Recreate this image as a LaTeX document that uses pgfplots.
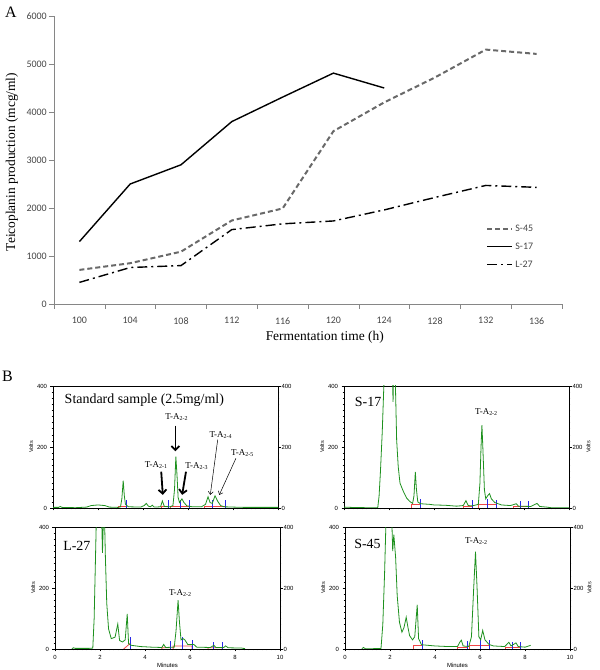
\documentclass[border=0pt]{standalone}
\usepackage{fontspec}
\setmainfont{Liberation Serif}
\newfontfamily\calibri{Carlito}
\newfontfamily\arial{Liberation Sans}
\usepackage{pgfplots}
\pgfplotsset{compat=1.18}
\usetikzlibrary{arrows.meta}

\definecolor{axgray}{RGB}{134,134,134}
\definecolor{lblgray}{RGB}{70,70,70}
\definecolor{s45gray}{RGB}{105,105,105}
\definecolor{trace}{RGB}{30,145,30}
\definecolor{intred}{RGB}{240,70,70}
\definecolor{intblue}{RGB}{40,40,230}

\tikzset{
  lbl/.style={font=\fontsize{9}{10}\selectfont},
  big/.style={font=\fontsize{14}{16}\selectfont},
}

\pgfplotsset{
  /pgf/number format/assume math mode=true,
  chrom/.style={scale only axis, width=225bp, height=122bp,
    xmin=0, xmax=10, ymin=0, ymax=400,
    xtick={0,2,...,10}, minor x tick num=9,
    ytick={0,200,400}, minor y tick num=9,
    xtick pos=left, tick align=outside,
    major tick length=2.5bp, minor tick length=1.3bp,
    every tick/.style={black, line width=0.4bp},
    axis line style={line width=0.5bp},
    tick label style={font=\arial\fontsize{6}{7}\selectfont},
    ylabel={Volts}, ylabel style={font=\arial\fontsize{5.5}{6}\selectfont, yshift=-3bp},
    xlabel style={font=\arial\fontsize{6}{7}\selectfont, yshift=3bp},
    unbounded coords=jump, clip=true},
  chromR/.style={scale only axis, width=225bp, height=122bp,
    xmin=0, xmax=10, ymin=0, ymax=400,
    hide x axis, axis y line*=right, ytick={0,200,400},
    ytick style={draw=none}, axis line style={draw=none},
    tick label style={font=\arial\fontsize{6}{7}\selectfont},
    ylabel style={font=\arial\fontsize{5.5}{6}\selectfont, yshift=3bp}},
  tr/.style={trace, line width=0.8bp},
  rd/.style={intred, line width=0.8bp},
  bl/.style={intblue, ycomb, line width=0.8bp, mark=none},
}

\begin{document}
\begin{tikzpicture}
\useasboundingbox (0,0) rectangle (600bp,670bp);

\node[font=\fontsize{16}{18}\selectfont] at (11bp,658bp) {A};
\node[font=\fontsize{16}{18}\selectfont] at (7.5bp,294bp) {B};

% ---------- panel A
\begin{axis}[at={(54bp,366bp)}, anchor=south west, scale only axis,
  width=508bp, height=288bp,
  xmin=98, xmax=138, ymin=0, ymax=6000,
  axis lines*=left, axis line style={axgray, line width=0.6bp},
  tick align=outside,
  xtick={100,104,...,136}, minor xtick={98,102,...,138},
  ytick={0,1000,...,6000},
  major x tick style={draw=none},
  minor x tick style={axgray, line width=0.6bp},
  ytick style={axgray, line width=0.6bp},
  major tick length=5bp, minor tick length=5bp,
  tick label style={font=\calibri\fontsize{10}{12}\selectfont, text=lblgray},
  /pgf/number format/1000 sep={},
  xticklabel style={yshift=-5bp}, yticklabel style={xshift=1.3bp},
  xlabel={Fermentation time (h)},
  ylabel={Teicoplanin production (mcg/ml)},
  xlabel style={at={(axis description cs:0.533,-0.115)}, anchor=center, font=\fontsize{13.5}{15}\selectfont},
  ylabel style={at={(axis description cs:-0.083,0.493)}, anchor=center, font=\fontsize{13.5}{15}\selectfont},
  legend style={draw=none, fill=none, at={(0.845,0.29)}, anchor=north west,
    font=\calibri\fontsize{10}{12}\selectfont, text=lblgray, row sep=6bp},
  legend cell align=left,
  legend image code/.code={\draw[#1] (0bp,0bp) -- (25bp,0bp);},
]
\addplot[s45gray, line width=2bp, dash pattern=on 5bp off 3bp] coordinates {
  (100,710) (104,850) (108,1090) (112,1740) (116,1990) (120,3600) (124,4200) (128,4720) (132,5300) (136,5210)};
\addplot[black, line width=1.4bp] coordinates {
  (100,1300) (104,2500) (108,2900) (112,3800) (116,4310) (120,4810) (124,4500)};
\addplot[black, line width=1.4bp, dash pattern=on 10bp off 4bp on 2bp off 4bp] coordinates {
  (100,450) (104,760) (108,800) (112,1550) (116,1670) (120,1730) (124,1960) (128,2220) (132,2470) (136,2430)};
\legend{S-45,S-17,L-27}
\end{axis}

% ---------- panel B, standard sample
\begin{axis}[chrom, at={(53bp,162bp)}, anchor=south west, xticklabels={}]
\addplot[rd] coordinates {(2.9,0) (2.9,4) (3.24,4) (3.24,0) (3.3,nan)
  (4.8,0) (4.8,4) (5.13,4) (5.13,0) (5.15,nan)
  (5.2,0) (5.2,5) (6.06,5) (6.06,0) (6.1,nan)
  (6.75,0) (6.75,4) (7.65,4) (7.65,0)};
\addplot[bl] coordinates {(3.24,25) (5.13,25) (5.66,25) (6.06,25) (7.07,25) (7.65,25)};
\addplot[tr] coordinates {
  (0,2) (0.25,2) (0.32,5) (0.4,2) (1.0,1) (1.5,3) (1.7,8) (2.0,10) (2.3,8) (2.5,3)
  (2.9,2) (3.0,4) (3.06,30) (3.12,90) (3.17,40) (3.22,12) (3.35,4) (3.9,3)
  (4.05,8) (4.15,15) (4.24,6) (4.33,4) (4.41,9) (4.5,3) (4.78,4) (4.86,23) (4.95,5)
  (5.2,4) (5.33,8) (5.40,60) (5.46,168) (5.51,110) (5.56,35) (5.62,18) (5.73,30)
  (5.82,18) (5.95,7) (6.2,4) (6.6,4) (6.78,12) (6.89,37) (6.98,18) (7.08,15)
  (7.2,40) (7.32,22) (7.45,8) (7.6,4) (8.0,3) (8.5,2) (10,2)};
\node[big] at (axis cs:4.06,354) {Standard sample (2.5mg/ml)};
\node[lbl] at (axis cs:5.5,299) {T-A\textsubscript{2-2}};
\node[lbl] at (axis cs:4.59,141) {T-A\textsubscript{2-1}};
\node[lbl] at (axis cs:6.39,139) {T-A\textsubscript{2-3}};
\node[lbl] at (axis cs:7.46,239) {T-A\textsubscript{2-4}};
\node[lbl] at (axis cs:8.42,179) {T-A\textsubscript{2-5}};
\draw[line width=1.8bp, -{Straight Barb[length=4bp,width=8bp]}] (axis cs:5.44,270) -- (axis cs:5.44,186);
\draw[line width=1.8bp, -{Straight Barb[length=4bp,width=8bp]}] (axis cs:4.81,119) -- (axis cs:4.88,43);
\draw[line width=1.8bp, -{Straight Barb[length=4bp,width=8bp]}] (axis cs:5.91,119) -- (axis cs:5.74,43);
\draw[line width=0.5bp, -{Straight Barb[length=3bp,width=5bp]}] (axis cs:7.32,224) -- (axis cs:6.99,43);
\draw[line width=0.5bp, -{Straight Barb[length=3bp,width=5bp]}] (axis cs:8.13,163) -- (axis cs:7.39,43);
\end{axis}
\begin{axis}[chromR, at={(53bp,162bp)}, anchor=south west]
\end{axis}

% ---------- panel B, S-17
\begin{axis}[chrom, at={(344bp,162bp)}, anchor=south west, xticklabels={}]
\addplot[rd] coordinates {(2.99,0) (2.99,12) (3.39,12) (3.39,0) (3.4,nan)
  (5.29,0) (5.29,6) (5.7,6) (5.7,0) (5.8,nan)
  (5.99,0) (5.99,12) (6.77,12) (6.77,0) (6.8,nan)
  (7.51,0) (7.51,6) (8.2,6) (8.2,0)};
\addplot[bl] coordinates {(3.39,28) (5.7,25) (6.36,30) (6.77,25) (7.84,22) (8.2,22)};
\addplot[tr] coordinates {
  (0,3) (0.3,2) (1.0,1) (1.5,1) (1.56,40) (1.62,120) (1.70,250) (1.78,420) (1.86,600)
  (2.1,600) (2.18,348) (2.24,600) (2.28,420) (2.34,223) (2.41,135) (2.49,81) (2.64,54)
  (2.79,32) (2.93,21) (3.05,15) (3.11,40) (3.17,118) (3.22,60) (3.28,20) (3.4,14)
  (3.8,12) (4.0,10) (4.5,9) (5.0,6) (5.3,8) (5.42,24) (5.52,8) (5.7,7) (5.97,12)
  (6.04,80) (6.09,200) (6.13,272) (6.17,200) (6.24,60) (6.3,30) (6.38,40) (6.47,47)
  (6.55,30) (6.7,18) (7.0,10) (7.4,8) (7.66,14) (7.75,6) (8.3,5) (8.58,15) (8.7,5)
  (9.0,3) (9.2,1) (10,1)};
\node[big] at (axis cs:1.07,348) {S-17};
\node[lbl] at (axis cs:6.33,316) {T-A\textsubscript{2-2}};
\end{axis}
\begin{axis}[chromR, at={(344bp,162bp)}, anchor=south west, ylabel={Volts}]
\end{axis}

% ---------- panel B, L-27
\begin{axis}[chrom, at={(55bp,21bp)}, anchor=south west, xlabel={Minutes}]
\addplot[rd] coordinates {(3.05,0) (3.37,20) (3.4,nan)
  (4.75,0) (4.75,4) (5.13,4) (5.13,0) (5.2,nan)
  (5.25,0) (5.25,10) (6.09,10) (6.09,0) (6.2,nan)
  (6.8,0) (6.8,4) (7.43,4) (7.43,0)};
\addplot[bl] coordinates {(3.34,40) (5.13,25) (5.68,40) (6.09,28) (7.03,22) (7.43,22)};
\addplot[tr] coordinates {
  (0.75,1) (0.82,4) (0.9,2) (1.5,2) (1.68,3) (1.74,100) (1.8,300) (1.86,500) (2.05,500)
  (2.11,315) (2.18,500) (2.24,300) (2.3,150) (2.38,66) (2.5,34) (2.67,39) (2.79,82)
  (2.87,28) (3.0,23) (3.12,30) (3.21,115) (3.27,17) (3.4,12) (3.8,8) (4.3,6) (4.75,5)
  (4.83,15) (4.92,5) (5.3,6) (5.38,60) (5.47,160) (5.53,90) (5.6,30) (5.69,34) (5.77,30)
  (5.9,15) (6.17,15) (6.3,6) (6.9,5) (7.06,12) (7.15,5) (7.5,5) (7.58,10) (7.7,4)
  (8.3,3) (8.45,1)};
\node[big] at (axis cs:0.97,337) {L-27};
\node[lbl] at (axis cs:5.57,183) {T-A\textsubscript{2-2}};
\end{axis}
\begin{axis}[chromR, at={(55bp,21bp)}, anchor=south west]
\end{axis}

% ---------- panel B, S-45
\begin{axis}[chrom, at={(345bp,21bp)}, anchor=south west, xlabel={Minutes}]
\addplot[rd] coordinates {(3.05,0) (3.05,12) (3.45,12) (3.45,0) (3.5,nan)
  (5.0,0) (5.0,6) (5.42,6) (5.42,0) (5.5,nan)
  (5.55,0) (5.55,12) (6.42,12) (6.42,0) (6.5,nan)
  (7.15,0) (7.15,6) (7.8,6) (7.8,0)};
\addplot[bl] coordinates {(3.45,30) (5.42,25) (6.02,35) (6.42,28) (7.46,22) (7.8,22)};
\addplot[tr] coordinates {
  (0.75,1) (0.82,5) (0.9,1) (1.2,1) (1.6,2) (1.68,80) (1.76,250) (1.85,500) (2.05,500)
  (2.12,321) (2.17,375) (2.25,300) (2.32,175) (2.42,88) (2.53,55) (2.62,70) (2.72,104)
  (2.8,70) (2.87,44) (3.0,30) (3.1,40) (3.21,145) (3.27,34) (3.4,14) (4.0,10) (4.6,8)
  (5.0,8) (5.1,22) (5.17,29) (5.25,10) (5.5,8) (5.62,40) (5.72,200) (5.8,319) (5.87,200)
  (5.95,40) (6.03,30) (6.12,61) (6.22,30) (6.4,15) (6.6,10) (7.1,8) (7.28,22) (7.38,10)
  (7.6,20) (7.7,8) (8.0,6) (8.25,12)};
\node[big] at (axis cs:1.0,343) {S-45};
\node[lbl] at (axis cs:5.84,353) {T-A\textsubscript{2-2}};
\end{axis}
\begin{axis}[chromR, at={(345bp,21bp)}, anchor=south west, ylabel={Volts}]
\end{axis}
\end{tikzpicture}
\end{document}
